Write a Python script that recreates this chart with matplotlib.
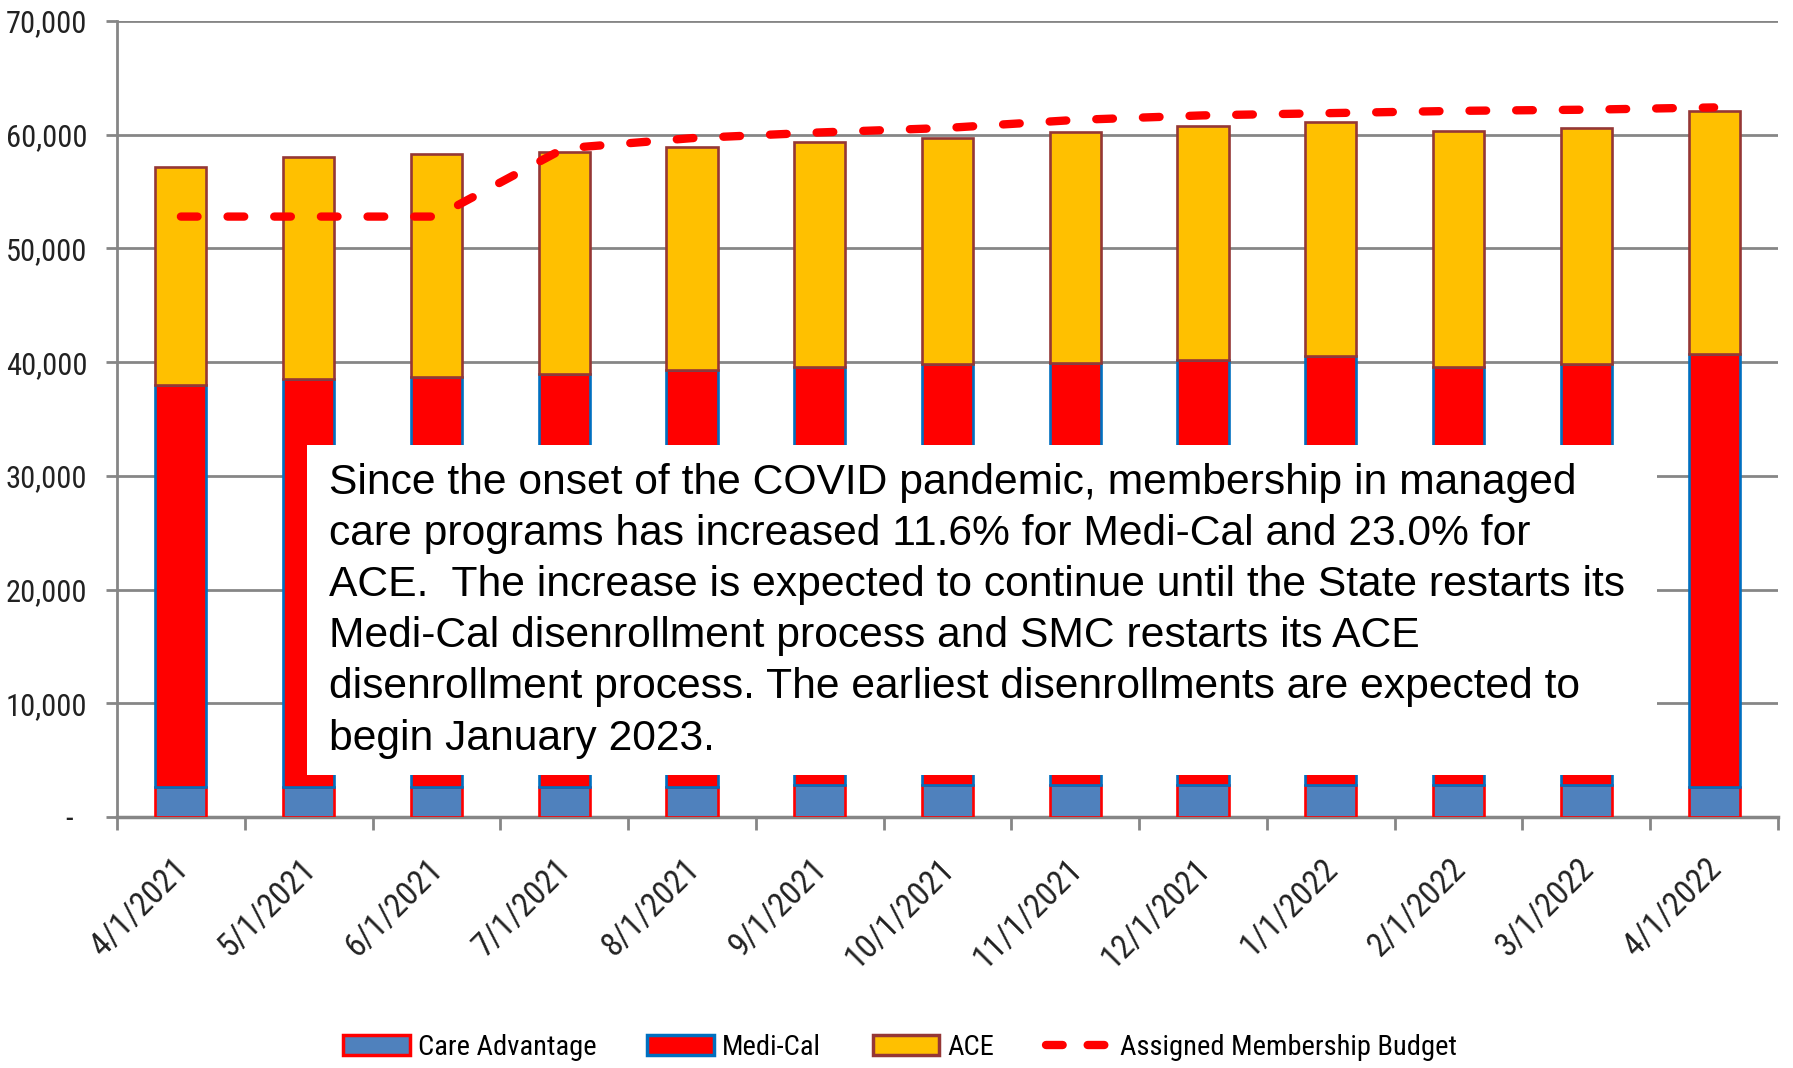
import matplotlib
matplotlib.use("Agg")
import matplotlib.pyplot as plt
import matplotlib.transforms as mtransforms
import numpy as np
from matplotlib import font_manager as fm
from matplotlib.patches import Patch, Rectangle
from matplotlib.lines import Line2D
from matplotlib.ticker import FuncFormatter, FixedLocator, NullFormatter

months = ["4/1/2021", "5/1/2021", "6/1/2021", "7/1/2021", "8/1/2021", "9/1/2021",
          "10/1/2021", "11/1/2021", "12/1/2021", "1/1/2022", "2/1/2022", "3/1/2022", "4/1/2022"]
care_advantage = [2600, 2600, 2600, 2600, 2600, 2800, 2800, 2800, 2800, 2800, 2800, 2800, 2600]
medi_cal_top = [38000, 38500, 38700, 39000, 39300, 39600, 39800, 39900, 40200, 40500, 39600, 39800, 40700]
total_top = [57200, 58000, 58300, 58500, 58900, 59400, 59700, 60200, 60800, 61100, 60300, 60600, 62100]
budget = [52800, 52800, 52800, 58800, 59700, 60200, 60600, 61300, 61700, 61900, 62100, 62200, 62400]
yticks = [0, 10000, 20000, 30000, 40000, 50000, 60000, 70000]

medi_cal = [m - c for m, c in zip(medi_cal_top, care_advantage)]
ace = [t - m for t, m in zip(total_top, medi_cal_top)]

note = ("Since the onset of the COVID pandemic, membership in managed\n"
        "care programs has increased 11.6% for Medi-Cal and 23.0% for\n"
        "ACE.  The increase is expected to continue until the State restarts its\n"
        "Medi-Cal disenrollment process and SMC restarts its ACE\n"
        "disenrollment process. The earliest disenrollments are expected to\n"
        "begin January 2023.")


def pick_narrow():
    prefs = ["Liberation Sans Narrow", "Arial Narrow", "Roboto Condensed", "Open Sans Condensed",
             "Noto Sans Condensed", "DejaVu Sans Condensed"]
    entries = fm.fontManager.ttflist
    for p in prefs:
        for e in entries:
            if e.name == p and e.weight in (400, "normal", "regular") and e.style == "normal":
                return fm.FontProperties(fname=e.fname)
    for e in entries:
        if str(e.stretch) in ("condensed", "semi-condensed", "extra-condensed") and \
                e.style == "normal" and e.weight in (400, "normal", "regular") and \
                any(k in e.name for k in ("DejaVu Sans", "Roboto", "Noto Sans", "Open Sans", "Liberation")):
            return fm.FontProperties(fname=e.fname)
    for e in entries:
        fn = e.fname.lower()
        if ("condensed" in fn or "narrow" in fn) and "bold" not in fn and "italic" not in fn \
                and "oblique" not in fn and "light" not in fn:
            return fm.FontProperties(fname=e.fname)
    return fm.FontProperties(family="DejaVu Sans")


NARROW = pick_narrow()
GRID = "#868686"


def fp(size):
    f = NARROW.copy()
    f.set_size(size)
    return f


fig = plt.figure(figsize=(17.93, 10.68), dpi=100)
ax = fig.add_axes([117/1793, 1 - 817/1068, (1778-117)/1793, (817-21)/1068])

x = np.arange(len(months))
w = 0.4
ax.bar(x, care_advantage, w, color="#4F81BD", edgecolor="#FF0000", linewidth=1.9, zorder=3)
ax.bar(x, medi_cal, w, bottom=care_advantage, color="#FF0000", edgecolor="#0070C0", linewidth=1.9, zorder=3)
ax.bar(x, ace, w, bottom=medi_cal_top, color="#FFC000", edgecolor="#953735", linewidth=1.9, zorder=3)
ax.plot(x, budget, color="#FF0000", linewidth=6, linestyle=(0, (2.0, 3.6)),
        dash_capstyle="round", zorder=4)

ax.set_xlim(-0.5, len(months) - 0.5)
ax.set_ylim(0, 70000)
ax.set_yticks(yticks)
ax.yaxis.set_major_formatter(FuncFormatter(lambda v, p: "-  " if v == 0 else f"{int(v):,}"))
ax.grid(axis="y", color=GRID, linewidth=2, zorder=0)
ax.set_axisbelow(True)

for s in ["top", "right"]:
    ax.spines[s].set_visible(False)
ax.spines["left"].set_color(GRID)
ax.spines["left"].set_linewidth(2)
ax.spines["bottom"].set_color(GRID)
ax.spines["bottom"].set_linewidth(2.5)

ax.xaxis.set_major_locator(FixedLocator(np.arange(-0.5, len(months), 1.0)))
ax.xaxis.set_major_formatter(NullFormatter())
ax.tick_params(axis="x", which="major", length=9, width=2, color=GRID)
ax.tick_params(axis="y", length=8, width=2, color=GRID, pad=13.5, labelcolor="#222222")
for lab in ax.get_yticklabels():
    lab.set_fontproperties(fp(22))

# category labels, rotated, hanging below each bar
lab_trans = ax.get_xaxis_transform() + mtransforms.ScaledTranslation(-9 / 100, -36 / 100, fig.dpi_scale_trans)
for xi, m in zip(x, months):
    ax.text(xi, 0, m, transform=lab_trans, rotation=45, ha="right", va="top",
            rotation_mode="anchor", color="#222222", fontproperties=fp(24), clip_on=False)

# annotation box
ax.add_patch(Rectangle((0.1144, 0.0528), 0.927 - 0.1144, 0.467 - 0.0528,
                       transform=ax.transAxes, facecolor="white", edgecolor="none", zorder=6))
ax.text(0.1277, 0.445, note, transform=ax.transAxes, ha="left", va="top",
        fontfamily="Liberation Sans", fontsize=30.7, linespacing=1.36, color="black", zorder=7)

handles = [
    Patch(facecolor="#4F81BD", edgecolor="#FF0000", linewidth=2.5, label="Care Advantage"),
    Patch(facecolor="#FF0000", edgecolor="#0070C0", linewidth=2.5, label="Medi-Cal"),
    Patch(facecolor="#FFC000", edgecolor="#953735", linewidth=2.5, label="ACE"),
    Line2D([0], [0], color="#FF0000", linewidth=6, linestyle=(0, (2.0, 3.0)),
           dash_capstyle="round", label="Assigned Membership Budget"),
]
fig.legend(handles=handles, loc="center", bbox_to_anchor=(0.502, 0.019), ncol=4,
           frameon=False, prop=fp(20.5), handlelength=2.35,
           handleheight=0.7, handletextpad=0.28, columnspacing=1.8)

fig.savefig("out.png", dpi=100)
